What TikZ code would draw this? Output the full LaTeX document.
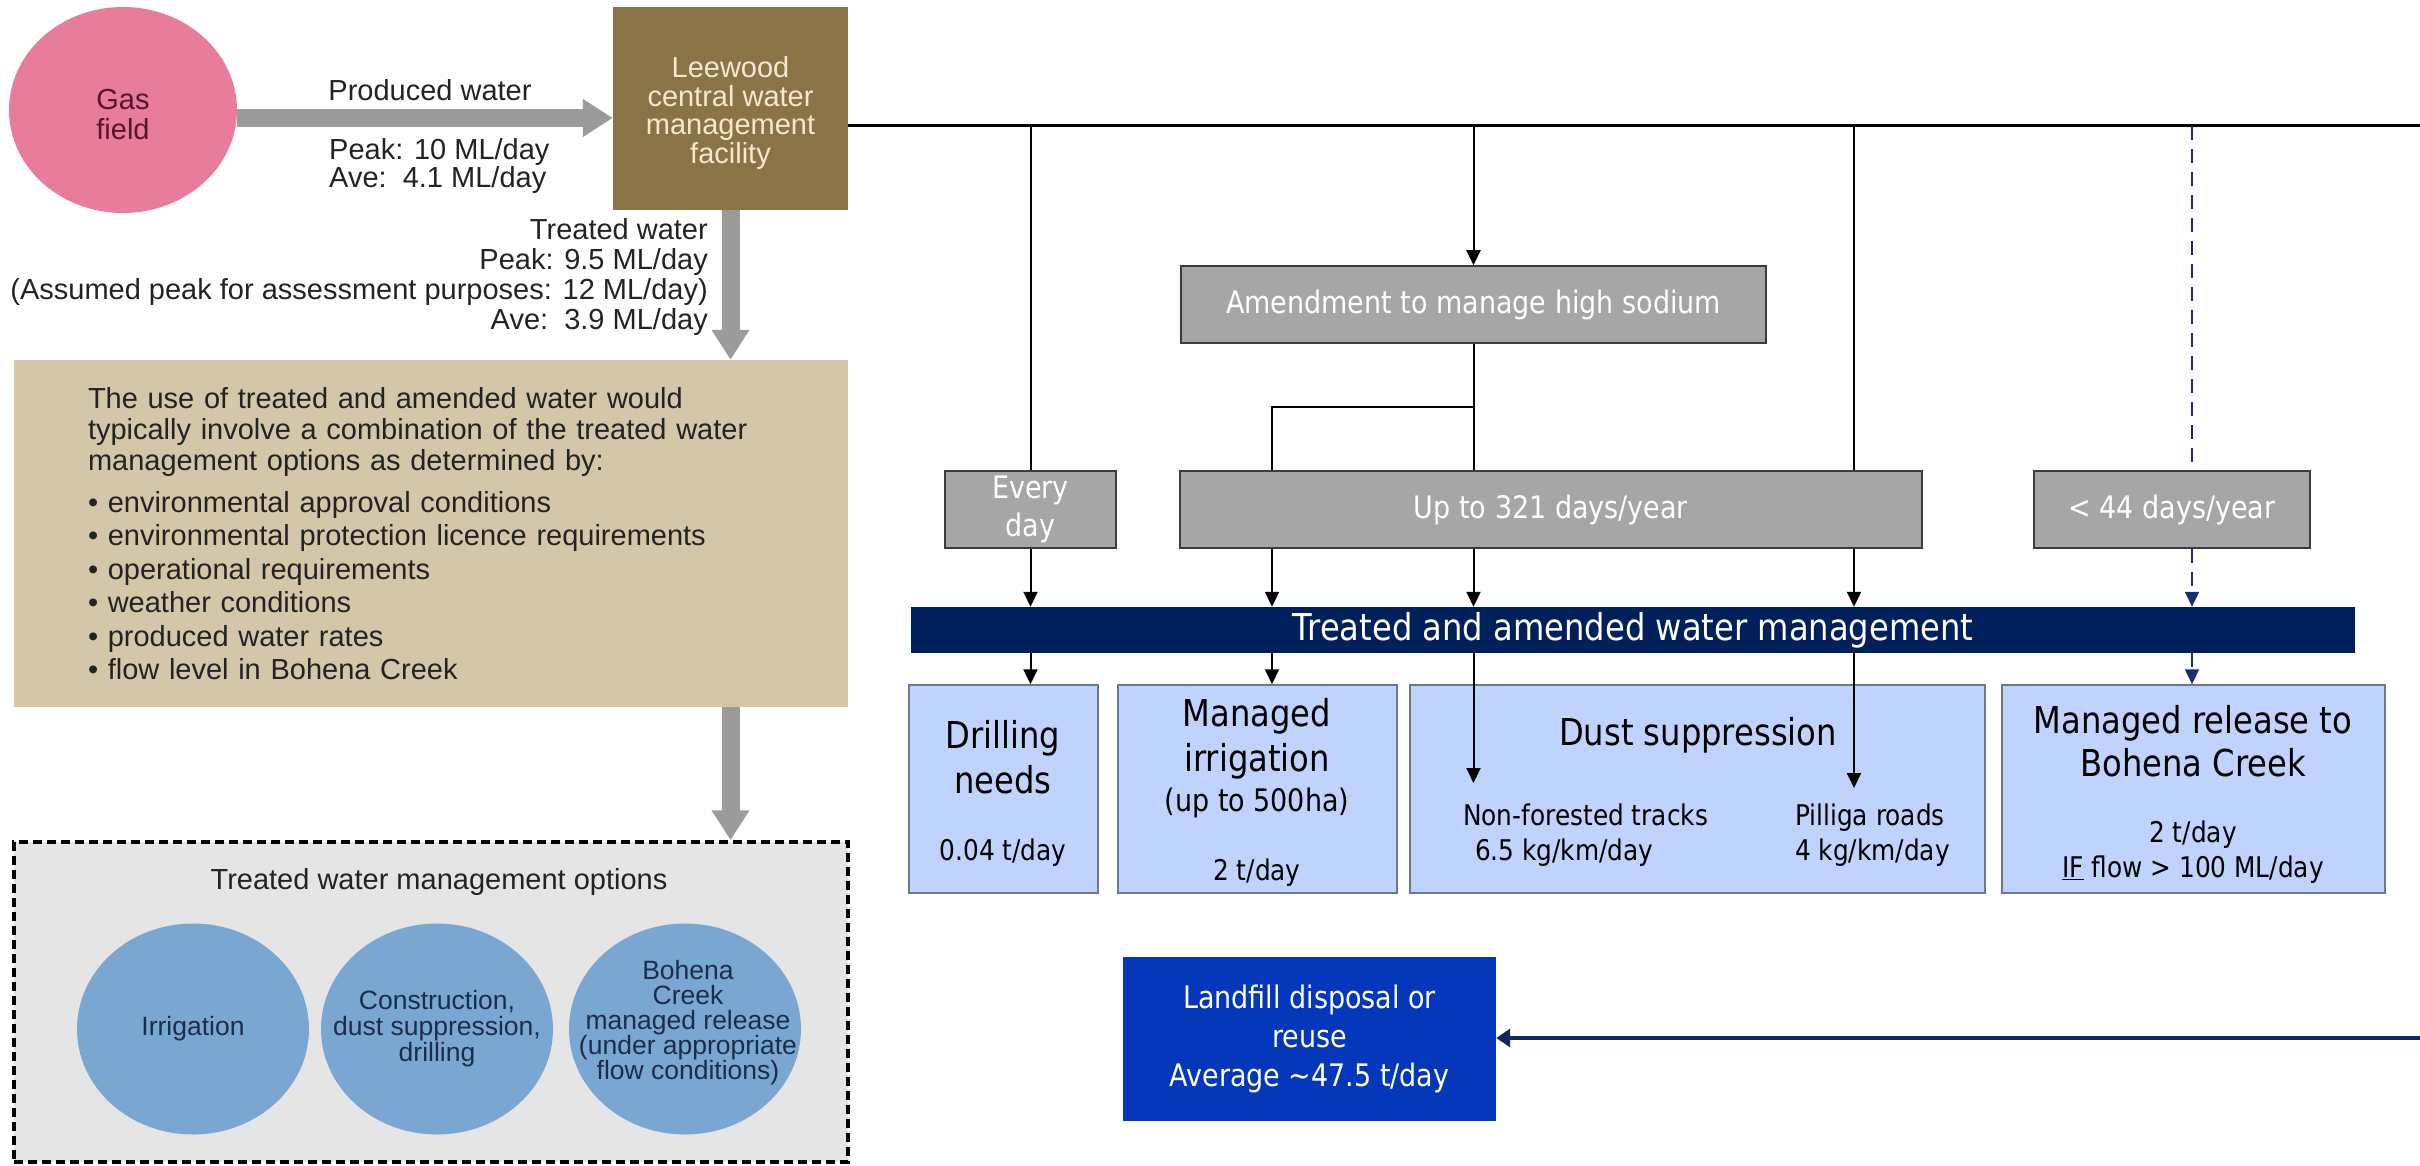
\documentclass[tikz,border=0pt]{standalone}
\usepackage{fontspec}
\setmainfont{Liberation Sans}
\newfontfamily\tahoma[FakeStretch=0.87]{DejaVu Sans}
\usetikzlibrary{arrows.meta,shapes.geometric,positioning,calc}
\definecolor{gaspink}{RGB}{232,124,155}
\definecolor{gastext}{RGB}{90,20,50}
\definecolor{plantbrown}{RGB}{139,115,72}
\definecolor{cream}{RGB}{244,232,206}
\definecolor{pipegray}{RGB}{155,155,155}
\definecolor{tan}{RGB}{212,198,168}
\definecolor{optgray}{RGB}{229,229,229}
\definecolor{circblue}{RGB}{122,167,210}
\definecolor{circtext}{RGB}{28,45,75}
\definecolor{lefttext}{RGB}{35,35,35}
\definecolor{boxgray}{RGB}{166,166,166}
\definecolor{boxedge}{RGB}{60,60,60}
\definecolor{navybar}{RGB}{0,32,91}
\definecolor{paleblue}{RGB}{192,211,252}
\definecolor{paleedge}{RGB}{110,120,140}
\definecolor{landblue}{RGB}{4,55,185}
\definecolor{dashnavy}{RGB}{25,45,120}
\definecolor{navyline}{RGB}{16,40,96}

\begin{document}
\begin{tikzpicture}[x=1pt,y=-1pt,
		every node/.style={inner sep=0pt,align=center},
		leftfont/.style={font=\fontsize{29pt}{30pt}\selectfont,text=lefttext},
		fat/.style={line width=18pt,draw=pipegray,-{Triangle[length=30pt,width=36pt]}},
		wire/.style={line width=2pt},
		arr/.style={line width=2pt,-{Triangle[length=15pt,width=14pt]}},
		optline/.style={line width=2pt,draw=dashnavy,dash pattern=on 14pt off 9pt},
		optarr/.style={optline,-{Triangle[length=15pt,width=14pt]}},
		navyarr/.style={line width=3.5pt,draw=navyline,-{Triangle[length=14pt,width=18pt]}},
		option/.style={ellipse,fill=circblue,minimum width=232,minimum height=211},
		optiontext/.style={text=circtext,font=\fontsize{26.5pt}{26pt}\selectfont},
		graybox/.style={fill=boxgray,draw=boxedge,line width=1.5pt,text=white,font=\tahoma\fontsize{31pt}{38pt}\selectfont,minimum height=77},
		usebox/.style={fill=paleblue,draw=paleedge,line width=1.5pt,minimum height=208},
		bigtext/.style={font=\tahoma\fontsize{37pt}{45pt}\selectfont},
		midtext/.style={font=\tahoma\fontsize{31pt}{38pt}\selectfont},
		smalltext/.style={font=\tahoma\fontsize{28.5pt}{35pt}\selectfont}]
		
		\useasboundingbox (0,0) rectangle (2420,1166);
		
		\node[ellipse,fill=gaspink,minimum width=228,minimum height=206] (gas) at (123,110) {};
		\node[text=gastext,font=\fontsize{29pt}{30pt}\selectfont] (gastxt) at (123,115) {Gas\\field};
		\node[fill=plantbrown,minimum width=235,minimum height=203] (leewood) at (730.5,108.5) {};
		\node[text=cream,font=\fontsize{29pt}{28.5pt}\selectfont] (leewoodtxt) at (730.5,113) {Leewood\\central water\\management\\facility};
		\node[fill=tan,minimum width=834,minimum height=347,text width=686,align=left,text=lefttext,font=\fontsize{29pt}{31pt}\selectfont] (uses) at (431,533.5) {The use of treated and amended water would\\typically involve a combination of the treated water\\management options as determined by:\\[11pt]
			\textbullet\ environmental approval conditions\\[2.5pt]
			\textbullet\ environmental protection licence requirements\\[2.5pt]
			\textbullet\ operational requirements\\[2.5pt]
			\textbullet\ weather conditions\\[2.5pt]
			\textbullet\ produced water rates\\[2.5pt]
			\textbullet\ flow level in Bohena Creek};
		\node[fill=optgray,draw=black,line width=3.5pt,dash pattern=on 9pt off 5pt,minimum width=834,minimum height=320] (opts) at (431,1002) {};
		\node[leftfont] (optstitle) at (439,882) {Treated water management options};
		\node[option] (irr) at (193,1029) {};
		\node[option] (con) at (437,1029) {};
		\node[option] (boh) at (685,1029) {};
		\node[optiontext] (irrtxt) at (irr) {Irrigation};
		\node[optiontext] (contxt) at (con) {Construction,\\dust suppression,\\drilling};
		\node[optiontext,font=\fontsize{26.5pt}{25pt}\selectfont] (bohtxt) at (688,1023) {Bohena\\Creek\\managed release\\(under appropriate\\flow conditions)};
		
		\node[leftfont] (pwlbl) at (430,90) {Produced water};
		\node[leftfont,anchor=west,align=left,font=\fontsize{29pt}{28pt}\selectfont] (pwrate) at (329,166) {Peak: 10 ML/day\\Ave:\ \ 4.1 ML/day};
		\node[leftfont,anchor=east,align=right] (twlbl) at (708,277.5) {Treated water\\Peak: 9.5 ML/day\\(Assumed peak for assessment purposes: 12 ML/day)\\Ave:\ \ 3.9 ML/day};
		
		\coordinate (pw) at ([yshift=-8pt]gas.east);
		\draw[fat] (pw) -- (pw -| leewood.west);
		\draw[fat] (leewood.south) -- (leewood.south |- uses.north);
		\draw[fat] (leewood.south |- uses.south) -- (leewood.south |- opts.north);
		
		\node[graybox,minimum width=585] (amend) at (1473.5,304.5) {Amendment to manage high sodium};
		\node[graybox,minimum width=171] (everyday) at (1030.5,509.5) {Every\\day};
		\node[graybox,minimum width=742] (upto) at (1551,509.5) {Up to 321 days/year};
		\node[graybox,minimum width=276] (rare) at (2172,509.5) {< 44 days/year};
		\node[fill=navybar,minimum width=1444,minimum height=46,text=white,bigtext] (bar) at (1633,630) {Treated and amended water management};
		
		\node[usebox,minimum width=189] (drill) at (1003.5,789) {};
		\node[usebox,minimum width=279] (irrig) at (1257.5,789) {};
		\node[usebox,minimum width=575] (dust) at (1697.5,789) {};
		\node[usebox,minimum width=383] (release) at (2193.5,789) {};
		
		\node[bigtext] (drilltxt) at (1003,757) {Drilling\\needs};
		\node[smalltext] (drillrate) at (1003,853) {0.04 t/day};
		\node[bigtext] (irrigtxt) at (1257,739) {Managed\\irrigation};
		\node[midtext] (irrigarea) at (1257,803) {(up to 500ha)};
		\node[smalltext] (irrigrate) at (1257,873) {2 t/day};
		\node[bigtext] (dusttxt) at (1698,735) {Dust suppression};
		\node[smalltext,anchor=west,align=left] (tracks) at (1463,835) {Non-forested tracks\\\hspace*{12pt}6.5 kg/km/day};
		\node[smalltext,anchor=west,align=left] (roads) at (1795,835) {Pilliga roads\\4 kg/km/day};
		\node[bigtext,font=\tahoma\fontsize{37pt}{43pt}\selectfont] (reltxt) at (2193,741.5) {Managed release to\\Bohena Creek};
		\node[smalltext] (relrate) at (2193,852.5) {2 t/day\\\underline{IF} flow > 100 ML/day};
		
		\node[fill=landblue,minimum width=373,minimum height=164,text=white,midtext,font=\tahoma\fontsize{31pt}{39pt}\selectfont] (landfill) at (1309.5,1039) {Landfill disposal or\\reuse\\Average \textasciitilde47.5 t/day};
		
		\coordinate (rt) at (2420,126);
		\coordinate (plane) at (1854,126);
		\coordinate (rlane) at (2192,126);
		\coordinate (split) at (1473.5,407);
		\coordinate (ilane) at (1272,407);
		\coordinate (tracktip) at (1473.5,783);
		\coordinate (roadtip) at (1854,788);
		\coordinate (lfin) at (2420,1038);
		
		\draw[wire,line width=3pt] (leewood.east |- rt) -- (rt);
		\draw[wire] (everyday.north |- rt) -- (everyday.north);
		\draw[arr] (amend.north |- rt) -- (amend.north);
		\draw[wire] (plane) -- (plane |- upto.north);
		\draw[optline] (rlane) -- (rlane |- rare.north);
		\draw[wire] (amend.south) -- (split) -- (split |- upto.north);
		\draw[wire] (split) -- (ilane) -- (ilane |- upto.north);
		\draw[arr] (everyday.south) -- (everyday.south |- bar.north);
		\draw[arr] (ilane |- upto.south) -- (ilane |- bar.north);
		\draw[arr] (split |- upto.south) -- (split |- bar.north);
		\draw[arr] (plane |- upto.south) -- (plane |- bar.north);
		\draw[optarr] (rlane |- rare.south) -- (rlane |- bar.north);
		\draw[arr] (everyday.south |- bar.south) -- (everyday.south |- drill.north);
		\draw[arr] (ilane |- bar.south) -- (ilane |- irrig.north);
		\draw[arr] (tracktip |- bar.south) -- (tracktip);
		\draw[arr] (roadtip |- bar.south) -- (roadtip);
		\draw[optarr] (rlane |- bar.south) -- (rlane |- release.north);
		\draw[navyarr] (lfin) -- (landfill.east |- lfin);
		
\end{tikzpicture}
\end{document}
